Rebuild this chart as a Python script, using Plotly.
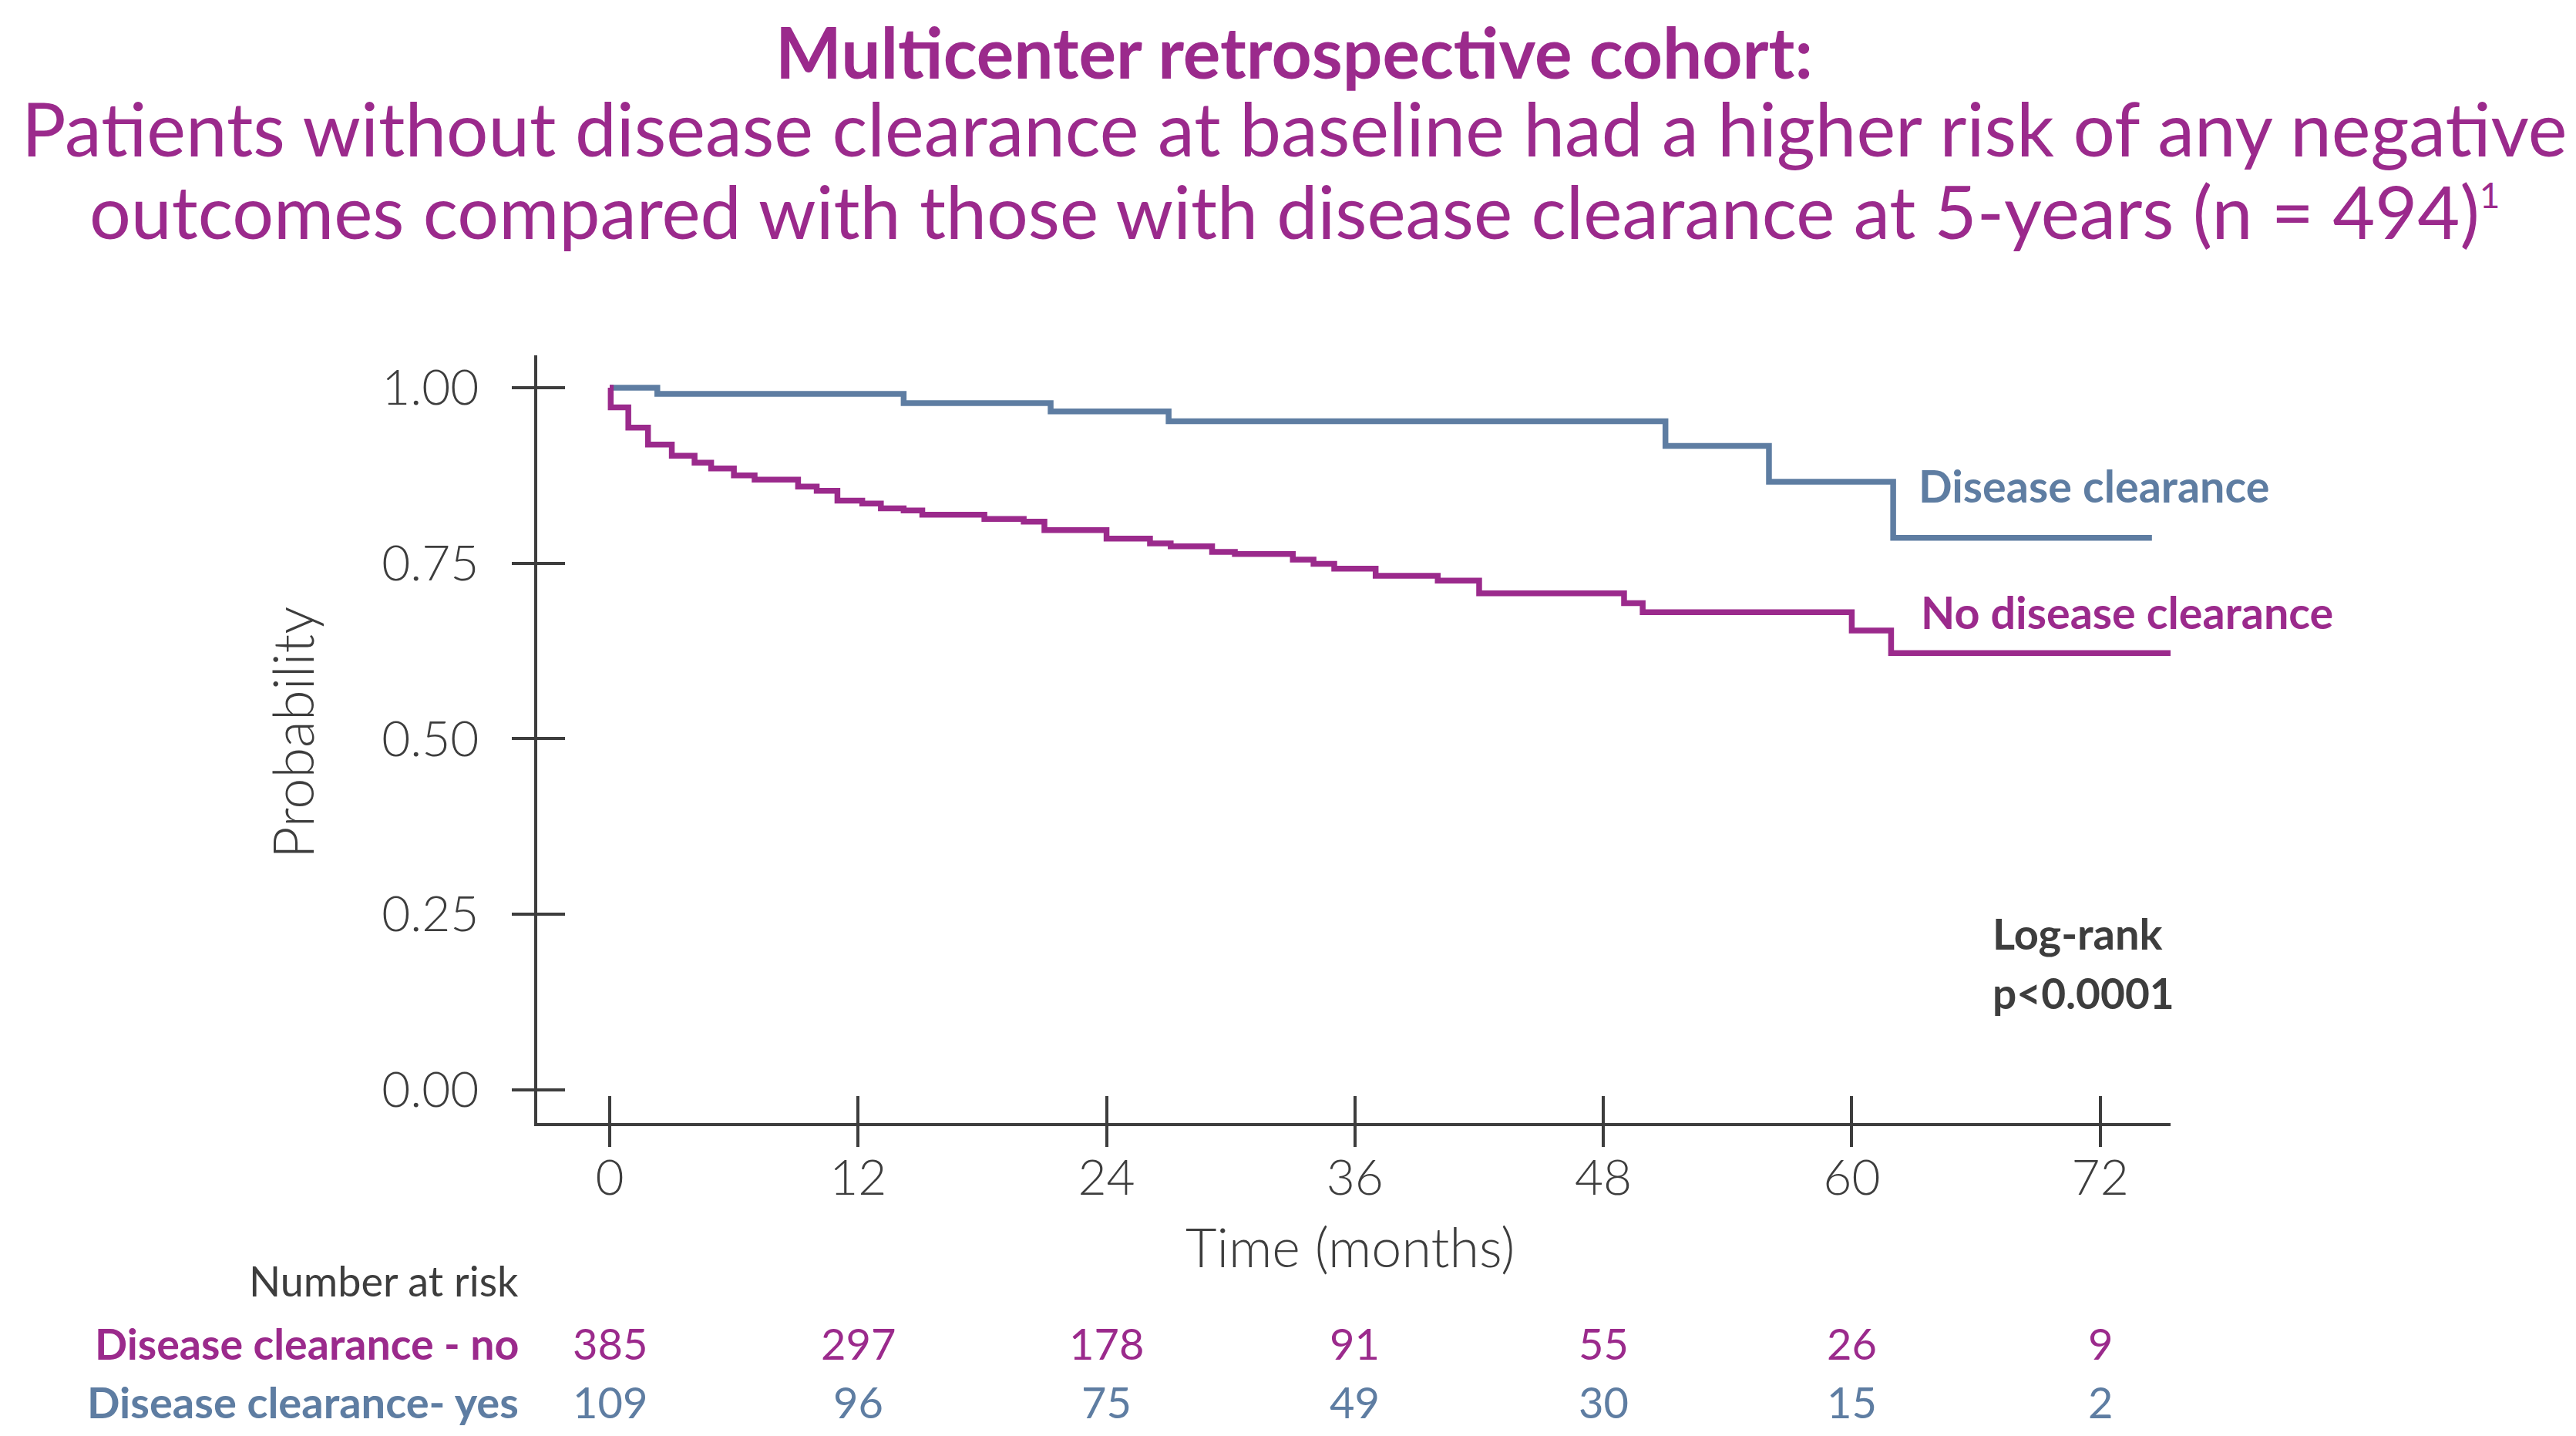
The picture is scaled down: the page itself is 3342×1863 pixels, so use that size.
import plotly.graph_objects as go

# ---------------- data ----------------
blue_t = [0, 2.3, 14.2, 21.3, 27.0, 51.0, 56.0, 62.0, 74.5]
blue_s = [1.0, 0.991, 0.978, 0.966, 0.952, 0.917, 0.866, 0.786, 0.786]

purple_t = [0, 0.05, 0.9, 1.85, 3.0, 4.1, 4.9, 6.0, 7.0, 9.1, 10.0, 11.0, 12.2,
            13.1, 14.2, 15.1, 18.1, 20.0, 21.0, 24.0, 26.1, 27.1, 29.1, 30.2,
            33.0, 34.0, 35.0, 37.0, 40.0, 42.0, 49.0, 49.9, 60.0, 61.9, 75.4]
purple_s = [1.0, 0.972, 0.943, 0.919, 0.903, 0.893, 0.885, 0.875, 0.869, 0.859,
            0.853, 0.839, 0.835, 0.828, 0.825, 0.819, 0.813, 0.809, 0.797, 0.785,
            0.778, 0.774, 0.766, 0.763, 0.755, 0.749, 0.742, 0.732, 0.725, 0.707,
            0.693, 0.680, 0.654, 0.622, 0.622]

risk_times = [0, 12, 24, 36, 48, 60, 72]
risk_no = [385, 297, 178, 91, 55, 26, 9]
risk_yes = [109, 96, 75, 49, 30, 15, 2]

y_ticks = [0, 0.25, 0.5, 0.75, 1.0]
y_tick_text = ["0.00", "0.25", "0.50", "0.75", "1.00"]
x_ticks = [0, 12, 24, 36, 48, 60, 72]

title1 = "Multicenter retrospective cohort:"
title2 = "Patients without disease clearance at baseline had a higher risk of any negative"
title3 = ("outcomes compared with those with disease clearance at 5-years (n = 494)"
          "<sup><span style='font-size:46px'>1</span></sup>")

# ---------------- style ----------------
W, H = 3342, 1863
PURPLE = "#9B2A8C"
BLUE = "#5E7DA2"
GREY = "#3D3D3D"
FONT = "Lato"

def px(x):
    return x / W

def py(y):
    return 1 - y / H

fig = go.Figure()
fig.add_trace(go.Scatter(x=blue_t, y=blue_s, mode="lines", line_shape="hv",
                         line=dict(color=BLUE, width=7.5), showlegend=False,
                         name="Disease clearance"))
fig.add_trace(go.Scatter(x=purple_t, y=purple_s, mode="lines", line_shape="hv",
                         line=dict(color=PURPLE, width=7.5), showlegend=False,
                         name="No disease clearance"))

xdom = [px(689), px(2808)]
ydom = [py(1449), py(453)]
xr = [-3.5, 75.4]
yr = [-0.0476, 1.046]

tickfont = dict(family=FONT, size=64, color=GREY, weight=300)

fig.update_layout(
    width=W, height=H,
    margin=dict(l=0, r=0, t=0, b=0),
    paper_bgcolor="white", plot_bgcolor="white",
    xaxis=dict(domain=xdom, range=xr, tickvals=x_ticks, ticks="inside",
               ticklen=35, tickwidth=3.5, tickcolor=GREY, showline=True,
               linecolor=GREY, linewidth=3.5, showgrid=False, zeroline=False,
               tickfont=tickfont, ticklabelstandoff=12, anchor="y"),
    yaxis=dict(domain=ydom, range=yr, tickvals=y_ticks, ticktext=y_tick_text,
               ticks="outside", ticklen=29, tickwidth=3.5, tickcolor=GREY,
               showline=True, linecolor=GREY, linewidth=3.5, showgrid=False,
               zeroline=False, tickfont=tickfont, ticklabelstandoff=30, anchor="x"),
    xaxis2=dict(domain=xdom, range=xr, tickvals=x_ticks, ticks="outside",
                ticklen=30, tickwidth=3.5, tickcolor=GREY, showline=False,
                showticklabels=False, showgrid=False, zeroline=False,
                overlaying="x", anchor="y2"),
    yaxis2=dict(domain=ydom, range=yr, tickvals=y_ticks, ticks="inside",
                ticklen=36, tickwidth=3.5, tickcolor=GREY, showline=False,
                showticklabels=False, showgrid=False, zeroline=False,
                overlaying="y", anchor="x2"),
)
# invisible trace to activate overlay axes
fig.add_trace(go.Scatter(x=[None], y=[None], xaxis="x2", yaxis="y2",
                         showlegend=False, hoverinfo="skip"))

ann = []
# titles
ann.append(dict(text=f"<b>{title1}</b>", x=0.5, y=py(58), xref="paper", yref="paper",
                showarrow=False, xanchor="center", yanchor="middle",
                font=dict(family=FONT, size=91, color=PURPLE)))
ann.append(dict(text=title2, x=0.5, y=py(157), xref="paper", yref="paper",
                showarrow=False, xanchor="center", yanchor="middle",
                font=dict(family=FONT, size=96, color=PURPLE)))
ann.append(dict(text=title3, x=0.5, y=py(265), xref="paper", yref="paper",
                showarrow=False, xanchor="center", yanchor="middle",
                font=dict(family=FONT, size=95, color=PURPLE)))
# axis titles
ann.append(dict(text="Probability", x=px(371), y=py(943), xref="paper", yref="paper",
                showarrow=False, textangle=-90, xanchor="center", yanchor="middle",
                font=dict(family=FONT, size=72, color=GREY, weight=300)))
ann.append(dict(text="Time (months)", x=px(1743), y=py(1609), xref="paper", yref="paper",
                showarrow=False, xanchor="center", yanchor="middle",
                font=dict(family=FONT, size=70, color=GREY, weight=300)))
# curve labels
ann.append(dict(text="<b>Disease clearance</b>", x=px(2479), y=py(622), xref="paper",
                yref="paper", showarrow=False, xanchor="left", yanchor="middle",
                font=dict(family=FONT, size=57.5, color=BLUE)))
ann.append(dict(text="<b>No disease clearance</b>", x=px(2482), y=py(785), xref="paper",
                yref="paper", showarrow=False, xanchor="left", yanchor="middle",
                font=dict(family=FONT, size=57.5, color=PURPLE)))
# log-rank
ann.append(dict(text="<b>Log-rank</b>", x=px(2575), y=py(1202), xref="paper",
                yref="paper", showarrow=False, xanchor="left", yanchor="middle",
                font=dict(family=FONT, size=56, color=GREY)))
ann.append(dict(text="<b>p<0.0001</b>", x=px(2575), y=py(1280), xref="paper",
                yref="paper", showarrow=False, xanchor="left", yanchor="middle",
                font=dict(family=FONT, size=55, color=GREY)))
# number at risk
ann.append(dict(text="Number at risk", x=px(667), y=py(1653), xref="paper",
                yref="paper", showarrow=False, xanchor="right", yanchor="middle",
                font=dict(family=FONT, size=54, color=GREY)))
ann.append(dict(text="<b>Disease clearance - no</b>", x=px(667), y=py(1734),
                xref="paper", yref="paper", showarrow=False, xanchor="right",
                yanchor="middle", font=dict(family=FONT, size=55.5, color=PURPLE)))
ann.append(dict(text="<b>Disease clearance- yes</b>", x=px(667), y=py(1810),
                xref="paper", yref="paper", showarrow=False, xanchor="right",
                yanchor="middle", font=dict(family=FONT, size=56, color=BLUE)))
for t, n in zip(risk_times, risk_no):
    ann.append(dict(text=str(n), x=t, y=py(1734), xref="x", yref="paper",
                    showarrow=False, xanchor="center", yanchor="middle",
                    font=dict(family=FONT, size=56, color=PURPLE)))
for t, n in zip(risk_times, risk_yes):
    ann.append(dict(text=str(n), x=t, y=py(1810), xref="x", yref="paper",
                    showarrow=False, xanchor="center", yanchor="middle",
                    font=dict(family=FONT, size=56, color=BLUE)))

fig.update_layout(annotations=ann)
fig.write_html("out.html")
